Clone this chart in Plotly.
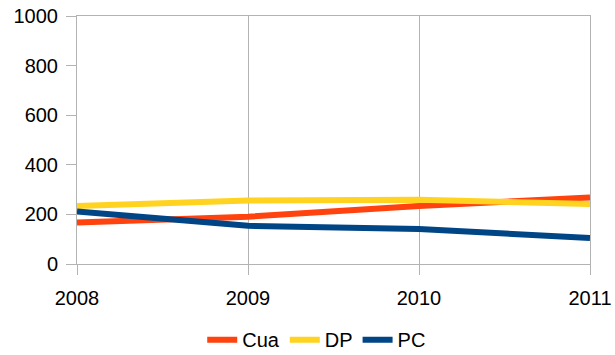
import plotly.graph_objects as go

years = [2008, 2009, 2010, 2011]
cua = [167, 191, 234, 268]
dp = [234, 256, 259, 242]
pc = [212, 154, 141, 105]

series = [
    ("Cua", cua, "#ff420e"),
    ("DP", dp, "#ffd320"),
    ("PC", pc, "#004586"),
]

fig = go.Figure()
for name, vals, color in series:
    fig.add_trace(go.Scatter(
        x=years, y=vals, name=name, mode="lines",
        line=dict(color=color, width=6),
    ))

fig.update_layout(
    width=615, height=355,
    margin=dict(l=77, r=25, t=16, b=91, autoexpand=False),
    paper_bgcolor="white", plot_bgcolor="white",
    font=dict(family="Liberation Sans, Arial, sans-serif", size=20, color="black"),
    showlegend=True,
    legend=dict(
        orientation="h", xref="container", x=0.515, xanchor="center",
        yref="paper", y=-0.305, yanchor="middle",
        font=dict(size=20), itemwidth=30, tracegroupgap=0,
    ),
)
fig.update_xaxes(
    range=[2008, 2011], tickvals=years, ticktext=[str(y) for y in years],
    showgrid=True, gridcolor="#b3b3b3", gridwidth=1,
    showline=True, linecolor="#b3b3b3", linewidth=1, mirror=True,
    ticks="outside", ticklen=10, tickcolor="#b3b3b3",
    zeroline=False, ticklabelstandoff=6, automargin=False,
)
fig.update_yaxes(
    range=[0, 1000], tickvals=[0, 200, 400, 600, 800, 1000],
    showgrid=False,
    showline=True, linecolor="#b3b3b3", linewidth=1, mirror=True,
    ticks="outside", ticklen=10, tickcolor="#b3b3b3",
    zeroline=False, ticklabelstandoff=4, automargin=False,
)

fig.write_html("out.html")
